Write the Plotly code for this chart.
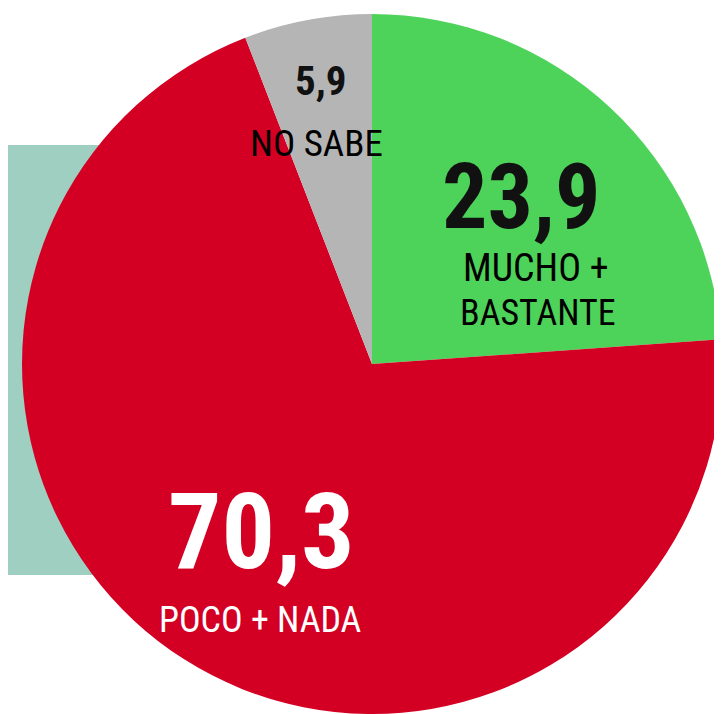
import plotly.graph_objects as go

categories = ["MUCHO + BASTANTE", "POCO + NADA", "NO SABE"]
values = [23.9, 70.3, 5.9]
value_labels = ["23,9", "70,3", "5,9"]
colors = ["#4ed35a", "#d30024", "#b5b5b5"]

OFF = 8  # default page body margin
W, H = 722 - OFF, 714 - OFF
FONT = "Roboto Condensed, Liberation Sans Narrow, sans-serif"

fig = go.Figure(go.Pie(
    labels=categories, values=values, sort=False, direction="clockwise", rotation=0,
    marker=dict(colors=colors, line=dict(width=0)), textinfo="none",
    hoverinfo="label+value", showlegend=False,
    domain=dict(x=[(22 - OFF) / W, 1.0], y=[0.0, 700 / H]),
))

def px(x, y):
    return (x - OFF) / W, 1 - (y - OFF) / H

ann = []
def add(text, x, y, size, color, bold=False):
    ax, ay = px(x, y)
    t = f"<b>{text}</b>" if bold else text
    ann.append(dict(text=t, x=ax, y=ay, xref="paper", yref="paper",
                    xanchor="center", yanchor="middle", showarrow=False,
                    font=dict(family=FONT, size=size, color=color)))

add(value_labels[2], 320, 81, 41, "#111111", True)
add("NO SABE", 316, 144, 37, "#000000")
add(value_labels[0], 521, 197, 90, "#111111", True)
add("MUCHO +", 536, 268, 38, "#000000")
add("BASTANTE", 538, 313, 36, "#000000")
add(value_labels[1], 261, 532, 106, "#ffffff", True)
add("POCO + NADA", 260, 620, 36, "#ffffff")

x0, y0 = px(0, 575)
x1, y1 = px(200, 145)
fig.update_layout(
    width=W, height=H, margin=dict(l=0, r=0, t=0, b=0),
    paper_bgcolor="white", plot_bgcolor="white", annotations=ann,
    shapes=[dict(type="rect", xref="paper", yref="paper",
                 x0=x0 - 0.05, x1=x1, y0=y0, y1=y1,
                 fillcolor="#9fcfc0", line=dict(width=0), layer="below")],
)
fig.write_html("out.html")
